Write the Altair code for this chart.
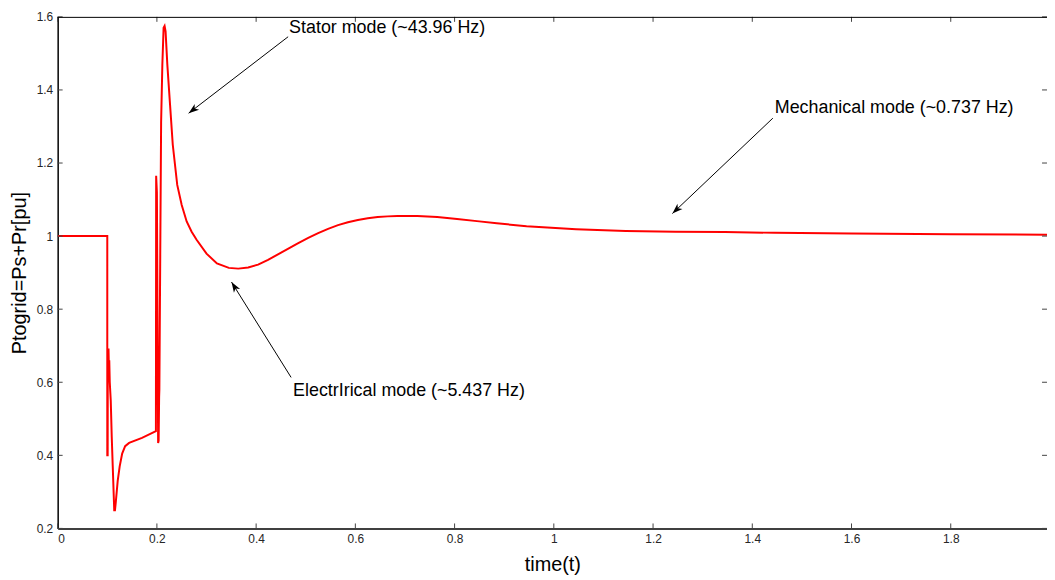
import math
import altair as alt
import pandas as pd

# ---- data ----
time_s = [0.0, 0.1, 0.1, 0.1008, 0.101, 0.1025, 0.1035, 0.104, 0.105, 0.107, 0.109, 0.111,
          0.114, 0.1155, 0.117, 0.121, 0.125, 0.130, 0.136, 0.144, 0.170, 0.198,
          0.1985, 0.200, 0.2025, 0.2035, 0.2045, 0.205, 0.207, 0.2085, 0.211, 0.2135,
          0.2155, 0.2175, 0.221, 0.2265, 0.232, 0.241, 0.250, 0.260, 0.270, 0.280,
          0.300, 0.321, 0.345, 0.364, 0.384, 0.404, 0.424, 0.444, 0.464, 0.484, 0.505,
          0.525, 0.545, 0.565, 0.585, 0.605, 0.625, 0.645, 0.665, 0.685, 0.725, 0.765,
          0.805, 0.845, 0.885, 0.945, 1.045, 1.145, 1.245, 1.345, 1.445, 1.600, 1.800, 1.994]
p_togrid = [1.0, 1.0, 0.40, 0.40, 0.69, 0.69, 0.62, 0.66, 0.60, 0.55, 0.45, 0.37,
            0.25, 0.25, 0.27, 0.33, 0.37, 0.405, 0.425, 0.434, 0.448, 0.466,
            1.165, 1.12, 0.434, 0.44, 0.56, 0.58, 1.00, 1.31, 1.47, 1.57,
            1.575, 1.56, 1.47, 1.36, 1.25, 1.14, 1.085, 1.04, 1.012, 0.99,
            0.952, 0.925, 0.913, 0.911, 0.914, 0.922, 0.935, 0.950, 0.965, 0.980, 0.995,
            1.008, 1.020, 1.030, 1.038, 1.044, 1.049, 1.052, 1.054, 1.055, 1.055, 1.052,
            1.047, 1.041, 1.035, 1.027, 1.019, 1.014, 1.012, 1.011, 1.009, 1.007, 1.005, 1.004]

x_ticks = [0, 0.2, 0.4, 0.6, 0.8, 1, 1.2, 1.4, 1.6, 1.8]
y_ticks = [0.2, 0.4, 0.6, 0.8, 1, 1.2, 1.4, 1.6]

ann_text = ["Stator mode (~43.96 Hz)", "ElectrIrical mode (~5.437 Hz)", "Mechanical mode (~0.737 Hz)"]
ann_tx = [0.4665, 0.4745, 1.4454]
ann_ty = [1.570, 0.576, 1.350]
arrow_x0 = [0.4645, 0.4705, 1.4414]
arrow_y0 = [1.5456, 0.6133, 1.3227]
arrow_x1 = [0.264, 0.3504, 1.239]
arrow_y1 = [1.3363, 0.8742, 1.0618]

# ---- layout ----
W, H = 996, 515
XMAX = 1.994
YMIN, YMAX = 0.2, 1.6
FONT = "Liberation Sans"

x_scale = alt.Scale(domain=[0, XMAX], nice=False, zero=False)
y_scale = alt.Scale(domain=[YMIN, YMAX], nice=False, zero=False)
x_axis = alt.Axis(values=x_ticks, format="~g", title="time(t)", grid=False,
                  tickSize=0, labelPadding=5, titlePadding=10,
                  domainColor="black", domainWidth=1.5)
y_axis = alt.Axis(values=y_ticks, format="~g", title="Ptogrid=Ps+Pr[pu]", grid=False,
                  tickSize=0, labelPadding=5, titlePadding=7,
                  domainColor="black", domainWidth=1.5)

df = pd.DataFrame({"t": time_s, "p": p_togrid})

angles = []
for x0, y0, x1, y1 in zip(arrow_x0, arrow_y0, arrow_x1, arrow_y1):
    dx = (x1 - x0) * W / XMAX
    dy = -(y1 - y0) * H / (YMAX - YMIN)
    angles.append(math.degrees(math.atan2(dx, -dy)) % 360)

ann = pd.DataFrame({"text": ann_text, "tx": ann_tx, "ty": ann_ty,
                    "x0": arrow_x0, "y0": arrow_y0, "x1": arrow_x1, "y1": arrow_y1,
                    "angle": angles})
xt = pd.DataFrame({"v": x_ticks})
yt = pd.DataFrame({"v": y_ticks})


def X(field):
    return alt.X(field, type="quantitative", scale=x_scale, axis=x_axis)


def Y(field):
    return alt.Y(field, type="quantitative", scale=y_scale, axis=y_axis)


line = alt.Chart(df).mark_line(color="#ff0000", strokeWidth=2, clip=True).encode(
    x=X("t"), y=Y("p"))

tick_color = "#444444"
bottom_ticks = alt.Chart(xt).mark_rule(color=tick_color, strokeWidth=1).encode(
    x=X("v"), y=alt.value(H - 5), y2=alt.value(H))
top_ticks = alt.Chart(xt).mark_rule(color=tick_color, strokeWidth=1).encode(
    x=X("v"), y=alt.value(0), y2=alt.value(5))
left_ticks = alt.Chart(yt).mark_rule(color=tick_color, strokeWidth=1).encode(
    y=Y("v"), x=alt.value(0), x2=alt.value(5))
right_ticks = alt.Chart(yt).mark_rule(color=tick_color, strokeWidth=1).encode(
    y=Y("v"), x=alt.value(W - 5), x2=alt.value(W))
top_border = alt.Chart(pd.DataFrame({"v": [0]})).mark_rule(color="black", strokeWidth=1).encode(
    x=alt.value(0), x2=alt.value(W), y=alt.value(0.5))

arrow_lines = alt.Chart(ann).mark_rule(color="black", strokeWidth=1).encode(
    x=X("x0"), y=Y("y0"), x2="x1:Q", y2="y1:Q")
arrow_heads = alt.Chart(ann).mark_point(
    shape="M0,0L-0.7,2L0,1.45L0.7,2Z", filled=True, color="black", opacity=1, size=110
).encode(x=X("x1"), y=Y("y1"), angle=alt.Angle("angle:Q", scale=None))
labels = alt.Chart(ann).mark_text(align="left", baseline="middle", fontSize=18,
                                  font=FONT, color="black").encode(
    x=X("tx"), y=Y("ty"), text="text:N")

chart = alt.layer(line, bottom_ticks, top_ticks, left_ticks, right_ticks, top_border,
                  arrow_lines, arrow_heads, labels).properties(
    width=W, height=H,
    padding={"left": 50, "top": 7, "right": 0, "bottom": 50},
    autosize=alt.AutoSizeParams(type="none"),
).configure_view(stroke=None).configure_axis(
    labelFont=FONT, labelFontSize=12, labelColor="#262626",
    titleFont=FONT, titleFontWeight="normal", titleColor="black",
).configure_axisX(titleFontSize=20).configure_axisY(titleFontSize=20)

chart.save("out.html", embed_options={"renderer": "svg", "actions": False})
